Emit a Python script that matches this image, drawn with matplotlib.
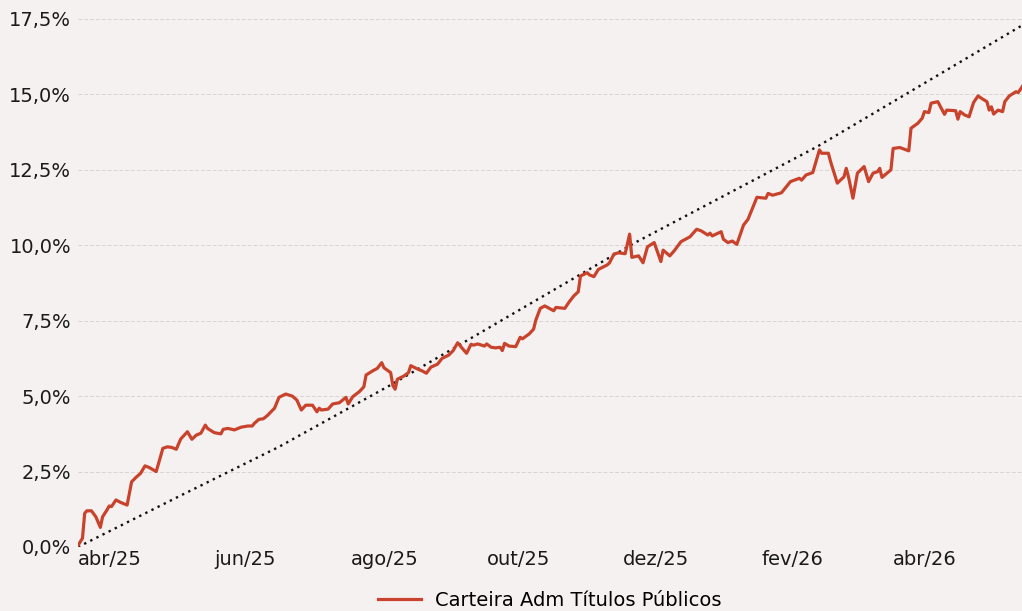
import matplotlib
matplotlib.use("Agg")
import matplotlib.pyplot as plt
import pandas as pd

start_date = pd.Timestamp("2025-04-01")

# Carteira Adm Títulos Públicos: days since start, cumulative return (%)
carteira_days = [0, 2, 3, 4, 6, 8, 10, 11, 13, 14, 15, 17, 19, 22, 24, 26, 28, 30, 32, 35,
                 36, 38, 40, 42, 44, 46, 49, 51, 53, 55, 57, 58, 61, 64, 65, 67, 69, 70, 73, 76,
                 78, 79, 81, 83, 85, 86, 88, 90, 93, 96, 98, 100, 102, 105, 107, 108, 109, 112, 114, 117,
                 120, 121, 123, 126, 128, 129, 132, 134, 136, 137, 140, 141, 142, 143, 146, 148, 149, 152, 154, 156,
                 158, 161, 163, 166, 168, 170, 172, 174, 176, 177, 179, 182, 183, 185, 187, 189, 190, 191, 193, 196,
                 198, 199, 202, 204, 205, 207, 209, 213, 214, 218, 220, 222, 224, 225, 228, 229, 231, 233, 237, 238,
                 240, 242, 245, 247, 248, 251, 253, 255, 258, 261, 262, 265, 267, 270, 274, 277, 279, 282, 283, 284,
                 288, 289, 291, 293, 295, 298, 300, 304, 308, 309, 311, 315, 319, 323, 324, 326, 329, 332, 333, 336,
                 337, 340, 343, 344, 345, 347, 349, 352, 354, 356, 358, 359, 360, 364, 365, 368, 372, 373, 376, 378,
                 379, 381, 382, 385, 386, 388, 389, 393, 394, 395, 397, 399, 401, 403, 405, 407, 408, 409, 410, 412,
                 414, 415, 417, 420, 421, 423]
carteira = [0.05, 0.29, 1.12, 1.20, 1.20, 1.00, 0.65, 1.00, 1.23, 1.36, 1.34, 1.56, 1.48, 1.39, 2.16, 2.31, 2.44, 2.69, 2.63, 2.50,
            2.75, 3.27, 3.32, 3.30, 3.24, 3.58, 3.82, 3.57, 3.71, 3.77, 4.04, 3.93, 3.79, 3.75, 3.90, 3.93, 3.90, 3.88, 3.97, 4.01,
            4.01, 4.10, 4.23, 4.25, 4.37, 4.45, 4.60, 4.96, 5.07, 5.00, 4.87, 4.54, 4.70, 4.70, 4.48, 4.60, 4.54, 4.57, 4.74, 4.78,
            4.96, 4.74, 4.98, 5.15, 5.31, 5.70, 5.84, 5.92, 6.11, 5.94, 5.78, 5.35, 5.23, 5.56, 5.67, 5.78, 6.01, 5.90, 5.84, 5.76,
            5.96, 6.06, 6.25, 6.36, 6.51, 6.77, 6.59, 6.42, 6.72, 6.69, 6.73, 6.66, 6.73, 6.62, 6.60, 6.62, 6.51, 6.75, 6.66, 6.64,
            6.95, 6.90, 7.06, 7.22, 7.52, 7.91, 7.99, 7.83, 7.94, 7.91, 8.13, 8.32, 8.46, 8.98, 9.09, 9.02, 8.96, 9.20, 9.35, 9.42,
            9.71, 9.75, 9.72, 10.37, 9.60, 9.65, 9.42, 9.95, 10.09, 9.46, 9.84, 9.65, 9.82, 10.12, 10.28, 10.53, 10.48, 10.34, 10.40, 10.31,
            10.45, 10.20, 10.09, 10.14, 10.03, 10.67, 10.86, 11.59, 11.56, 11.72, 11.66, 11.74, 12.11, 12.22, 12.16, 12.33, 12.41, 13.16, 13.05, 13.05,
            12.77, 12.06, 12.27, 12.55, 12.27, 11.56, 12.39, 12.61, 12.11, 12.39, 12.44, 12.55, 12.25, 12.50, 13.21, 13.24, 13.13, 13.88, 14.04, 14.21,
            14.43, 14.40, 14.71, 14.76, 14.62, 14.34, 14.48, 14.46, 14.18, 14.43, 14.32, 14.26, 14.73, 14.95, 14.85, 14.76, 14.48, 14.59, 14.35, 14.48,
            14.43, 14.76, 14.95, 15.09, 15.06, 15.28]

# Benchmark (dotted line): days since start, cumulative return (%)
bench_days = [0, 45, 90, 140, 249, 331, 423]
bench = [0.0, 1.67, 3.32, 5.37, 10.07, 13.27, 17.3]

tick_dates = ["2025-04-01", "2025-06-01", "2025-08-01", "2025-10-01", "2025-12-01", "2026-02-01", "2026-04-01"]
tick_labels = ["abr/25", "jun/25", "ago/25", "out/25", "dez/25", "fev/26", "abr/26"]
y_ticks = [0.0, 2.5, 5.0, 7.5, 10.0, 12.5, 15.0, 17.5]
y_labels = ["0,0%", "2,5%", "5,0%", "7,5%", "10,0%", "12,5%", "15,0%", "17,5%"]

bg = "#F5F1F0"
red = "#C9432C"

fig = plt.figure(figsize=(10.22, 6.11), dpi=100, facecolor=bg)
ax = fig.add_axes([78 / 1022, (611 - 547) / 611, 944 / 1022, 528 / 611])
ax.set_facecolor(bg)

x_car = [start_date + pd.Timedelta(days=d) for d in carteira_days]
x_ben = [start_date + pd.Timedelta(days=d) for d in bench_days]

ax.plot(x_ben, bench, color="#111111", lw=1.7, linestyle=(0, (1, 1.9)),
        dash_capstyle="butt", zorder=3)
ax.plot(x_car, carteira, color=red, lw=2.3, label="Carteira Adm Títulos Públicos",
        solid_joinstyle="round", zorder=4)

ax.set_xlim(start_date, start_date + pd.Timedelta(days=422.7))
ax.set_ylim(0, 17.5)

ax.set_yticks(y_ticks)
ax.set_yticklabels(y_labels)
ax.set_xticks([pd.Timestamp(t) for t in tick_dates])
ax.set_xticklabels(tick_labels)
for lbl in ax.get_xticklabels():
    lbl.set_horizontalalignment("left")

ax.tick_params(axis="both", length=0, labelsize=14, colors="#1a1a1a")
ax.tick_params(axis="y", pad=5)
ax.tick_params(axis="x", pad=2)
ax.grid(axis="y", color="#d8d4d3", lw=0.7, linestyle=(0, (4, 2)))
ax.set_axisbelow(True)
for s in ax.spines.values():
    s.set_visible(False)

fig.legend(loc="center", bbox_to_anchor=(550 / 1022, 11 / 611), frameon=False,
           fontsize=14, handlelength=2.2, handletextpad=0.75)

fig.savefig("out.png", dpi=100, facecolor=bg)
